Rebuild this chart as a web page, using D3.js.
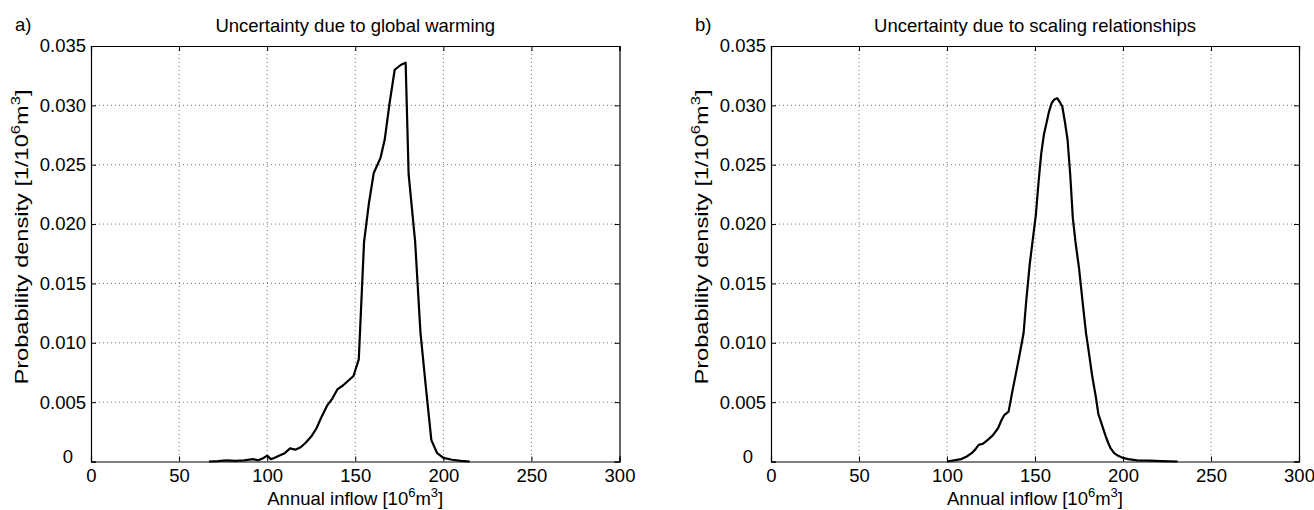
<!DOCTYPE html>
<html>
<head>
<meta charset="utf-8">
<script src="https://cdn.jsdelivr.net/npm/d3@7"></script>
<style>
  html, body { margin: 0; padding: 0; background: #fff; }
  svg text { font-family: 'Liberation Sans', Arial, Helvetica, sans-serif; fill: #000; }
</style>
</head>
<body>
<div id="chart"></div>
<script>
// x ticks and y ticks shared by both panels
const xTicks = [0, 50, 100, 150, 200, 250, 300];
const yTicks = [0, 0.005, 0.010, 0.015, 0.020, 0.025, 0.030, 0.035];

// a) uncertainty due to global warming
const warmingInflow = [67, 72, 77, 82, 87, 92, 95, 98, 100, 102, 104, 107, 110, 113, 116, 119,
  122, 125, 128, 131, 134, 137, 140, 143, 146, 149, 152, 155, 157.8, 160.5, 164.4, 166.7,
  169.5, 172.4, 175.8, 178.6, 180.3, 184, 187, 190, 193.2, 196.5, 200, 205, 210, 215];
const warmingDensity = [0, 0.00003, 0.0001, 0.00005, 0.0001, 0.0002, 0.0001, 0.0003, 0.0005, 0.0002,
  0.0003, 0.0005, 0.0007, 0.0011, 0.001, 0.0012, 0.0016, 0.0021, 0.0028, 0.0038, 0.0047, 0.0053,
  0.0061, 0.0064, 0.0068, 0.0072, 0.0086, 0.0185, 0.0218, 0.0243, 0.0256, 0.0271, 0.0302, 0.033,
  0.0334, 0.0336, 0.0242, 0.0185, 0.0109, 0.0064, 0.0018, 0.0007, 0.0003, 0.00015, 0.00005, 0];

// b) uncertainty due to scaling relationships
const scalingInflow = [100, 104, 108, 111, 114, 116, 118, 120.5, 123, 126, 129, 131, 132.5, 135,
  137, 139, 141, 143.5, 145, 147, 149, 150.5, 152, 153.5, 155, 156.5, 158, 159.5, 161, 162.6,
  164, 165.5, 167, 168.5, 170, 171.5, 173, 175, 177, 179, 180.5, 182.5, 184.5, 186, 188, 190,
  191.5, 193, 195, 197, 200, 203, 208, 215, 222, 231];
const scalingDensity = [0, 0.0001, 0.0002, 0.0004, 0.0007, 0.001, 0.0014, 0.0015, 0.0018, 0.0022,
  0.0028, 0.0035, 0.0039, 0.0042, 0.0058, 0.0073, 0.0088, 0.0108, 0.0135, 0.0166, 0.019, 0.0208,
  0.0235, 0.0259, 0.0275, 0.0285, 0.0295, 0.0302, 0.0305, 0.0306, 0.0303, 0.0299, 0.0286, 0.0271,
  0.0242, 0.0205, 0.0185, 0.0163, 0.0135, 0.0108, 0.0093, 0.0072, 0.0055, 0.004, 0.0031, 0.0022,
  0.0016, 0.0011, 0.0007, 0.0005, 0.0003, 0.0002, 0.0001, 0.00007, 0.00003, 0];

const WIDTH = 1314;
const HEIGHT = 510;
const FONT_SIZE = 18.5;

const svg = d3.select('#chart')
  .append('svg')
  .attr('width', WIDTH)
  .attr('height', HEIGHT)
  .attr('viewBox', `0 0 ${WIDTH} ${HEIGHT}`);

svg.append('rect').attr('width', WIDTH).attr('height', HEIGHT).attr('fill', '#fff');

// text with superscript "10^6 m^3" unit
function addUnitText (selection, prefix) {
  selection.append('tspan').text(prefix + '10');
  selection.append('tspan').attr('font-size', 13).attr('dy', -8).text('6');
  selection.append('tspan').attr('dy', 8).text('m');
  selection.append('tspan').attr('font-size', 13).attr('dy', -8).text('3');
  selection.append('tspan').attr('dy', 8).text(']');
}

function drawPanel (box, panel) {
  const x = d3.scaleLinear().domain([0, 300]).range([box.left, box.right]);
  const y = d3.scaleLinear().domain([0, 0.035]).range([box.bottom, box.top]);

  const g = svg.append('g').style('font-size', `${FONT_SIZE}px`);

  // dotted grid
  g.append('g')
    .selectAll('line')
    .data(xTicks.slice(1, -1))
    .enter()
    .append('line')
    .attr('x1', (d) => x(d)).attr('x2', (d) => x(d))
    .attr('y1', box.top).attr('y2', box.bottom)
    .attr('stroke', '#666')
    .attr('stroke-width', 0.9)
    .attr('stroke-dasharray', '1,3');

  g.append('g')
    .selectAll('line')
    .data(yTicks.slice(1, -1))
    .enter()
    .append('line')
    .attr('x1', box.left).attr('x2', box.right)
    .attr('y1', (d) => y(d)).attr('y2', (d) => y(d))
    .attr('stroke', '#666')
    .attr('stroke-width', 0.9)
    .attr('stroke-dasharray', '1,3');

  const yFormat = (d) => (d === 0 ? '0' : d3.format('.3f')(d));

  const bottom = g.append('g')
    .attr('transform', `translate(0,${box.bottom})`)
    .call(d3.axisBottom(x).tickValues(xTicks).tickSize(-5).tickPadding(7));
  g.append('g')
    .attr('transform', `translate(0,${box.top})`)
    .call(d3.axisTop(x).tickValues(xTicks).tickSize(-5).tickFormat(''));
  const left = g.append('g')
    .attr('transform', `translate(${box.left},0)`)
    .call(d3.axisLeft(y).tickValues(yTicks).tickSize(-5).tickPadding(5).tickFormat(yFormat));
  g.append('g')
    .attr('transform', `translate(${box.right},0)`)
    .call(d3.axisRight(y).tickValues(yTicks).tickSize(-5).tickFormat(''));

  g.selectAll('.domain').attr('stroke', '#000').attr('stroke-width', 1.2);
  g.selectAll('.tick line').attr('stroke', '#000').attr('stroke-width', 1);
  g.selectAll('.tick text').attr('font-size', FONT_SIZE).attr('fill', '#000')
    .attr('font-family', "'Liberation Sans', Arial, sans-serif");

  bottom.selectAll('.tick text').attr('dy', '0.75em');

  // matlab puts the y "0" label a bit further left and higher
  left.selectAll('.tick text')
    .filter((d) => d === 0)
    .attr('x', -23)
    .attr('text-anchor', 'middle')
    .attr('dy', '0.05em');

  // curve
  const points = panel.inflow.map((v, i) => [v, panel.density[i]]);
  g.append('path')
    .datum(points)
    .attr('fill', 'none')
    .attr('stroke', '#000')
    .attr('stroke-width', 2.2)
    .attr('stroke-linejoin', 'round')
    .attr('d', d3.line().x((d) => x(d[0])).y((d) => y(d[1])));

  const cx = (box.left + box.right) / 2;

  g.append('text')
    .attr('x', cx)
    .attr('y', 32)
    .attr('text-anchor', 'middle')
    .text(panel.title);

  g.append('text')
    .attr('x', box.left - 76)
    .attr('y', 31)
    .text(panel.label);

  const xLabel = g.append('text')
    .attr('x', cx)
    .attr('y', 505)
    .attr('text-anchor', 'middle');
  addUnitText(xLabel, 'Annual inflow [');

  // the rotated label in the original runs longer than the font alone would give
  const yLabel = g.append('text')
    .attr('transform', `translate(${box.left - 63},237) rotate(-90)`)
    .attr('text-anchor', 'middle')
    .attr('textLength', 295)
    .attr('lengthAdjust', 'spacingAndGlyphs');
  addUnitText(yLabel, 'Probability density [1/');
}

drawPanel(
  { left: 91, right: 619.5, top: 46, bottom: 461.5 },
  { title: 'Uncertainty due to global warming', label: 'a)', inflow: warmingInflow, density: warmingDensity }
);

drawPanel(
  { left: 771, right: 1299, top: 46, bottom: 461.5 },
  { title: 'Uncertainty due to scaling relationships', label: 'b)', inflow: scalingInflow, density: scalingDensity }
);
</script>
</body>
</html>
